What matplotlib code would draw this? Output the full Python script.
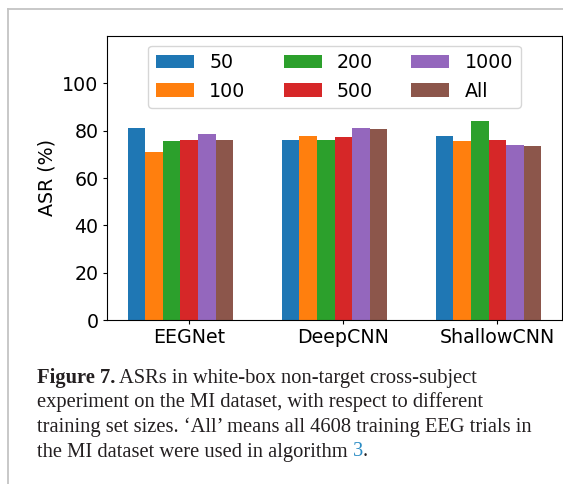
import numpy as np
import matplotlib
matplotlib.use("Agg")
import matplotlib.pyplot as plt
from matplotlib.lines import Line2D

# data
models = ["EEGNet", "DeepCNN", "ShallowCNN"]
sizes = ["50", "100", "200", "500", "1000", "All"]
asr_50 = [81.1, 76.1, 77.7]
asr_100 = [71.0, 77.7, 75.6]
asr_200 = [75.6, 76.1, 84.1]
asr_500 = [76.1, 77.3, 76.1]
asr_1000 = [78.6, 81.1, 74.0]
asr_all = [76.1, 80.7, 73.5]
series = [asr_50, asr_100, asr_200, asr_500, asr_1000, asr_all]
yticks = [0, 20, 40, 60, 80, 100]

cap_bold = "Figure 7."
cap_lines = [
    " ASRs in white-box non-target cross-subject",
    "experiment on the MI dataset, with respect to different",
    "training set sizes. \u2018All\u2019 means all 4608 training EEG trials in",
    "the MI dataset were used in algorithm ",
]
cap_ref = "3"

W, H = 563, 484
plt.rcParams['font.family'] = 'DejaVu Sans'
plt.rcParams['font.size'] = 13.7
fig = plt.figure(figsize=(W / 100, H / 100), dpi=100)

# page frame (left and top edge of the box around the figure)
fig.add_artist(Line2D([7.8 / W, 7.8 / W], [0, 1 - 9 / H], color='#c4c4c4', lw=1.3))
fig.add_artist(Line2D([7.8 / W, 1.0], [1 - 9 / H, 1 - 9 / H], color='#c4c4c4', lw=1.3))

ax = fig.add_axes([107 / W, (H - 320) / H, (562 - 107) / W, (320 - 36) / H])
x = np.arange(len(models))
w = 0.8 / 7
for i, vals in enumerate(series):
    ax.bar(x + (i - 3) * w, vals, w, label=sizes[i])
ax.set_ylim(0, 120)
ax.set_yticks(yticks)
ax.set_xticks(x, models)
ax.set_ylabel("ASR (%)")
ax.tick_params(length=2.6)
ax.legend(loc='upper center', ncol=3)

# caption
serif = ['Liberation Serif', 'DejaVu Serif']
cs = 14.8
x0 = 37 / W
base = [383, 407.5, 432, 456.5]
fig.canvas.draw()
r = fig.canvas.get_renderer()
t = fig.text(x0, 1 - base[0] / H, cap_bold, family=serif, size=cs,
             weight='bold', va='baseline', color='#231f20')
x1 = t.get_window_extent(r).x1 / W
fig.text(x1, 1 - base[0] / H, cap_lines[0], family=serif, size=cs,
         va='baseline', color='#231f20')
for k in (1, 2):
    fig.text(x0, 1 - base[k] / H, cap_lines[k], family=serif, size=cs,
             va='baseline', color='#231f20')
t = fig.text(x0, 1 - base[3] / H, cap_lines[3], family=serif, size=cs,
             va='baseline', color='#231f20')
x1 = t.get_window_extent(r).x1 / W
t = fig.text(x1, 1 - base[3] / H, cap_ref, family=serif, size=cs,
             va='baseline', color='#2b8cc4')
x1 = t.get_window_extent(r).x1 / W
fig.text(x1, 1 - base[3] / H, ".", family=serif, size=cs,
         va='baseline', color='#231f20')

fig.savefig("out.png", dpi=100)
